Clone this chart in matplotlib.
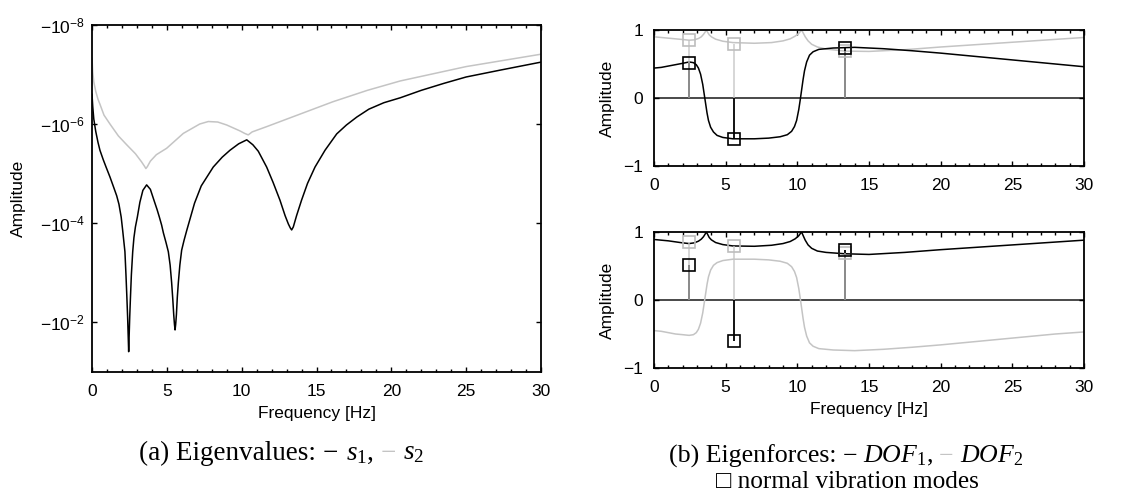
import numpy as np
import matplotlib
matplotlib.use("Agg")
import matplotlib.pyplot as plt
from matplotlib.ticker import FixedLocator, MultipleLocator, NullLocator
from matplotlib.offsetbox import TextArea, HPacker, AnnotationBbox

plt.rcParams['font.family'] = ['Liberation Sans', 'DejaVu Sans']
plt.rcParams['mathtext.fontset'] = 'custom'
plt.rcParams['mathtext.rm'] = 'Liberation Serif'
plt.rcParams['mathtext.it'] = 'Liberation Serif:italic'

# ---------------- data: eigenvalues (log10 of magnitude) ----------------
s1_freq = [0, 0.05, 0.12, 0.25, 0.4, 0.53, 0.75, 0.94, 1.2, 1.45, 1.65, 1.8, 1.95, 2.05, 2.13,
           2.2, 2.27, 2.33, 2.38, 2.42, 2.45, 2.48, 2.52, 2.57, 2.63, 2.72, 2.8, 2.9, 3.03, 3.2,
           3.4, 3.65, 3.9, 4.14, 4.35, 4.5, 4.65, 4.77, 4.95, 5.1, 5.22, 5.32, 5.4, 5.46, 5.51,
           5.55, 5.59, 5.64, 5.7, 5.77, 5.87, 5.99, 6.15, 6.33, 6.85, 7.3, 8.1, 8.7, 9.22, 9.8,
           10.34, 10.75, 11.11, 11.67, 12.1, 12.56, 12.9, 13.12, 13.25, 13.34, 13.45, 13.67,
           14.0, 14.4, 14.9, 15.57, 16.35, 17.0, 17.69, 18.5, 19.5, 20.6, 22, 23.5, 25, 27.3, 30]
s1_log = [-6.6, -6.35, -6.1, -5.85, -5.63, -5.47, -5.28, -5.13, -4.93, -4.72, -4.55, -4.38, -4.12,
          -3.85, -3.62, -3.42, -2.95, -2.5, -2.1, -1.7, -1.4, -1.7, -2.1, -2.5, -2.95, -3.42, -3.7,
          -3.92, -4.12, -4.42, -4.66, -4.77, -4.68, -4.46, -4.27, -4.12, -3.96, -3.8, -3.6, -3.42,
          -3.15, -2.8, -2.45, -2.15, -1.95, -1.84, -1.95, -2.15, -2.5, -2.8, -3.15, -3.45, -3.65,
          -3.85, -4.4, -4.75, -5.13, -5.33, -5.47, -5.6, -5.68, -5.58, -5.45, -5.13, -4.82, -4.46,
          -4.15, -3.98, -3.9, -3.86, -3.92, -4.15, -4.46, -4.8, -5.13, -5.47, -5.8, -5.98, -6.14,
          -6.3, -6.43, -6.53, -6.68, -6.82, -6.95, -7.09, -7.25]

s2_freq = [0, 0.05, 0.12, 0.25, 0.4, 0.53, 0.8, 1.2, 1.76, 2.32, 2.9, 3.3, 3.5, 3.6, 3.7, 3.9,
           4.3, 4.99, 6.1, 7.2, 7.77, 8.4, 9.0, 9.89, 10.2, 10.44, 10.7, 11.7, 13.9, 16.1, 18.4,
           20.6, 25, 30]
s2_log = [-7.33, -7.05, -6.85, -6.66, -6.5, -6.4, -6.18, -6.0, -5.76, -5.58, -5.4, -5.24, -5.15,
          -5.1, -5.14, -5.25, -5.38, -5.51, -5.81, -6.0, -6.05, -6.04, -5.98, -5.86, -5.81, -5.78,
          -5.84, -5.95, -6.2, -6.45, -6.68, -6.87, -7.16, -7.41]

# ---------------- data: eigenforces ----------------
top_dof1_freq = [0, 0.5, 1, 1.5, 2, 2.45, 2.75, 2.95, 3.1, 3.25, 3.4, 3.5, 3.6, 3.7, 3.8, 3.95,
                 4.15, 4.4, 4.8, 5.5, 7, 8, 8.8, 9.3, 9.6, 9.8, 9.95, 10.1, 10.2, 10.3, 10.4, 10.5,
                 10.65, 10.85, 11.1, 11.5, 12.5, 14, 16, 18, 20, 22, 25, 28, 30]
top_dof1 = [0.44, 0.45, 0.47, 0.49, 0.51, 0.53, 0.52, 0.49, 0.44, 0.35, 0.2, 0.06, -0.08, -0.22,
            -0.33, -0.43, -0.5, -0.55, -0.58, -0.6, -0.6, -0.59, -0.57, -0.54, -0.49, -0.42, -0.33,
            -0.17, -0.03, 0.12, 0.27, 0.4, 0.53, 0.63, 0.68, 0.715, 0.735, 0.745, 0.725, 0.695,
            0.66, 0.62, 0.56, 0.5, 0.46]
top_dof2_freq = [0, 1, 2, 2.45, 2.8, 3.1, 3.3, 3.45, 3.57, 3.65, 3.73, 3.85, 4.0, 4.3, 4.8, 5.5,
                 7, 8.2, 9.0, 9.5, 9.85, 10.1, 10.22, 10.3, 10.4, 10.55, 10.75, 11.0, 11.4, 12,
                 13.3, 15, 17.5, 20, 25, 30]
top_dof2 = [0.9, 0.88, 0.86, 0.85, 0.855, 0.875, 0.9, 0.935, 0.97, 1.0, 0.97, 0.93, 0.9, 0.865,
            0.835, 0.815, 0.805, 0.815, 0.84, 0.87, 0.91, 0.95, 0.98, 1.0, 0.96, 0.9, 0.84, 0.79,
            0.75, 0.72, 0.69, 0.685, 0.71, 0.75, 0.82, 0.89]

bot_dof1_freq = [0, 1, 2, 2.45, 2.8, 3.1, 3.3, 3.45, 3.57, 3.65, 3.73, 3.85, 4.0, 4.3, 4.8, 5.5,
                 7, 8.2, 9.0, 9.5, 9.85, 10.1, 10.22, 10.3, 10.4, 10.55, 10.75, 11.0, 11.4, 12,
                 13.3, 15, 17.5, 20, 25, 30]
bot_dof1 = [0.89, 0.87, 0.84, 0.83, 0.84, 0.865, 0.895, 0.93, 0.97, 1.0, 0.97, 0.92, 0.885, 0.845,
            0.815, 0.795, 0.79, 0.805, 0.83, 0.86, 0.9, 0.945, 0.98, 1.0, 0.95, 0.88, 0.81, 0.76,
            0.72, 0.7, 0.68, 0.67, 0.7, 0.74, 0.81, 0.88]
bot_dof2_freq = [0, 0.5, 1, 1.5, 2, 2.45, 2.75, 2.95, 3.1, 3.25, 3.4, 3.5, 3.6, 3.7, 3.8, 3.95,
                 4.15, 4.4, 4.8, 5.5, 7, 8, 8.8, 9.3, 9.6, 9.8, 9.95, 10.1, 10.2, 10.3, 10.4, 10.5,
                 10.65, 10.85, 11.1, 11.5, 12.5, 14, 16, 18, 20, 22, 25, 28, 30]
bot_dof2 = [-0.45, -0.46, -0.48, -0.5, -0.51, -0.52, -0.51, -0.48, -0.43, -0.34, -0.19, -0.05,
            0.09, 0.23, 0.34, 0.44, 0.51, 0.55, 0.58, 0.6, 0.6, 0.59, 0.57, 0.54, 0.49, 0.42,
            0.33, 0.17, 0.03, -0.12, -0.27, -0.4, -0.53, -0.63, -0.68, -0.715, -0.735, -0.745,
            -0.725, -0.695, -0.66, -0.62, -0.56, -0.5, -0.47]

mode_freq = [2.45, 5.55, 13.35]
mode_dof1 = [0.52, -0.60, 0.74]
mode_dof2 = [0.85, 0.80, 0.69]

ytick_exp = [-8, -6, -4, -2]

BLACK = '#000000'
GRAY = '#c4c4c4'
FS = 12.5

fig = plt.figure(figsize=(11.37, 4.98), dpi=100)
W, H = 1137.0, 498.0

def axes_px(x0, x1, ytop, ybot):
    return fig.add_axes([x0 / W, 1 - ybot / H, (x1 - x0) / W, (ybot - ytop) / H])

def style(ax, ypad):
    for s in ax.spines.values():
        s.set_linewidth(1.3)
    ax.tick_params(which='both', direction='in', top=True, right=True, labelsize=FS, width=1.0)
    ax.tick_params(which='major', length=3.5)
    ax.tick_params(which='minor', length=2.0)
    ax.tick_params(axis='x', which='major', pad=8.5)
    ax.tick_params(axis='y', which='major', pad=ypad)

# ---------------- (a) eigenvalues ----------------
axa = axes_px(92, 541, 25, 372)
axa.plot(s2_freq, 10.0 ** np.array(s2_log), color=GRAY, lw=1.1)
axa.plot(s1_freq, 10.0 ** np.array(s1_log), color=BLACK, lw=1.1)
axa.set_yscale('log')
axa.set_ylim(10 ** -0.99, 1e-8)
axa.set_xlim(0, 30)
axa.yaxis.set_major_locator(FixedLocator([10.0 ** e for e in ytick_exp]))
axa.yaxis.set_minor_locator(NullLocator())
axa.set_yticklabels([r'$\mathregular{-10^{%d}}$' % e for e in ytick_exp])
axa.xaxis.set_major_locator(MultipleLocator(5))
axa.xaxis.set_minor_locator(MultipleLocator(1))
style(axa, 5)
axa.set_xlabel('Frequency [Hz]', fontsize=FS, labelpad=5)
axa.set_ylabel('Amplitude', fontsize=FS)
axa.yaxis.set_label_coords(-0.146, 0.5)

# ---------------- (b) eigenforces ----------------
def force_panel(ax, f_black, v_black, f_gray, v_gray):
    ax.axhline(0, color='#3a3a3a', lw=1.3, zorder=1)
    ax.plot(f_gray, v_gray, color=GRAY, lw=1.1, zorder=2)
    ax.plot(f_black, v_black, color=BLACK, lw=1.1, zorder=2)
    ax.vlines(mode_freq, 0, mode_dof1, color=BLACK, lw=1.3, zorder=3)
    ax.vlines(mode_freq, 0, mode_dof2, color=GRAY, lw=1.3, alpha=0.75, zorder=3)
    ax.plot(mode_freq, mode_dof2, ls='none', marker='s', ms=9, mfc='none', mec='#bdbdbd', mew=1.2, zorder=4)
    ax.plot(mode_freq, mode_dof1, ls='none', marker='s', ms=9, mfc='none', mec=BLACK, mew=1.2, zorder=5)
    ax.set_xlim(0, 30)
    ax.set_ylim(-1, 1)
    ax.set_yticks([-1, 0, 1])
    ax.set_yticklabels(['\u22121', '0', '1'])
    ax.xaxis.set_major_locator(MultipleLocator(5))
    ax.xaxis.set_minor_locator(MultipleLocator(1))
    style(ax, 8)
    ax.set_ylabel('Amplitude', fontsize=FS)
    ax.yaxis.set_label_coords(-0.09, 0.5)

axb1 = axes_px(654, 1084, 30, 166)
force_panel(axb1, top_dof1_freq, top_dof1, top_dof2_freq, top_dof2)
axb2 = axes_px(654, 1084, 232, 368)
force_panel(axb2, bot_dof1_freq, bot_dof1, bot_dof2_freq, bot_dof2)
axb2.set_xlabel('Frequency [Hz]', fontsize=FS, labelpad=5)

# ---------------- captions ----------------
SERIF = ['Liberation Serif', 'DejaVu Serif']

def caption(pieces, xpix, ypix, fs, sep):
    areas = [TextArea(t, textprops=dict(color=c, fontsize=fs, family=SERIF)) for t, c in pieces]
    box = HPacker(children=areas, align='baseline', pad=0, sep=sep)
    ab = AnnotationBbox(box, (xpix, H - ypix), xycoords='figure pixels', frameon=False,
                        box_alignment=(0.5, 0.5), pad=0)
    fig.add_artist(ab)

caption([('(a) Eigenvalues:', BLACK), ('\u2212', BLACK), ('$s_1$,', BLACK),
         ('\u2212', GRAY), ('$s_2$', BLACK)], 281.5, 453, 19.5, 5.2)
caption([('(b) Eigenforces:', BLACK), ('\u2212', BLACK), ('$DOF_1$,', BLACK),
         ('\u2212', GRAY), ('$DOF_2$', BLACK)], 846, 456, 18.6, 4.4)
fig.text(847 / W, 1 - 482 / H, '\u25a1 normal vibration modes', fontsize=18.2,
         family=['Liberation Serif', 'DejaVu Sans'], ha='center', va='center')

fig.savefig('out.png', dpi=100)
